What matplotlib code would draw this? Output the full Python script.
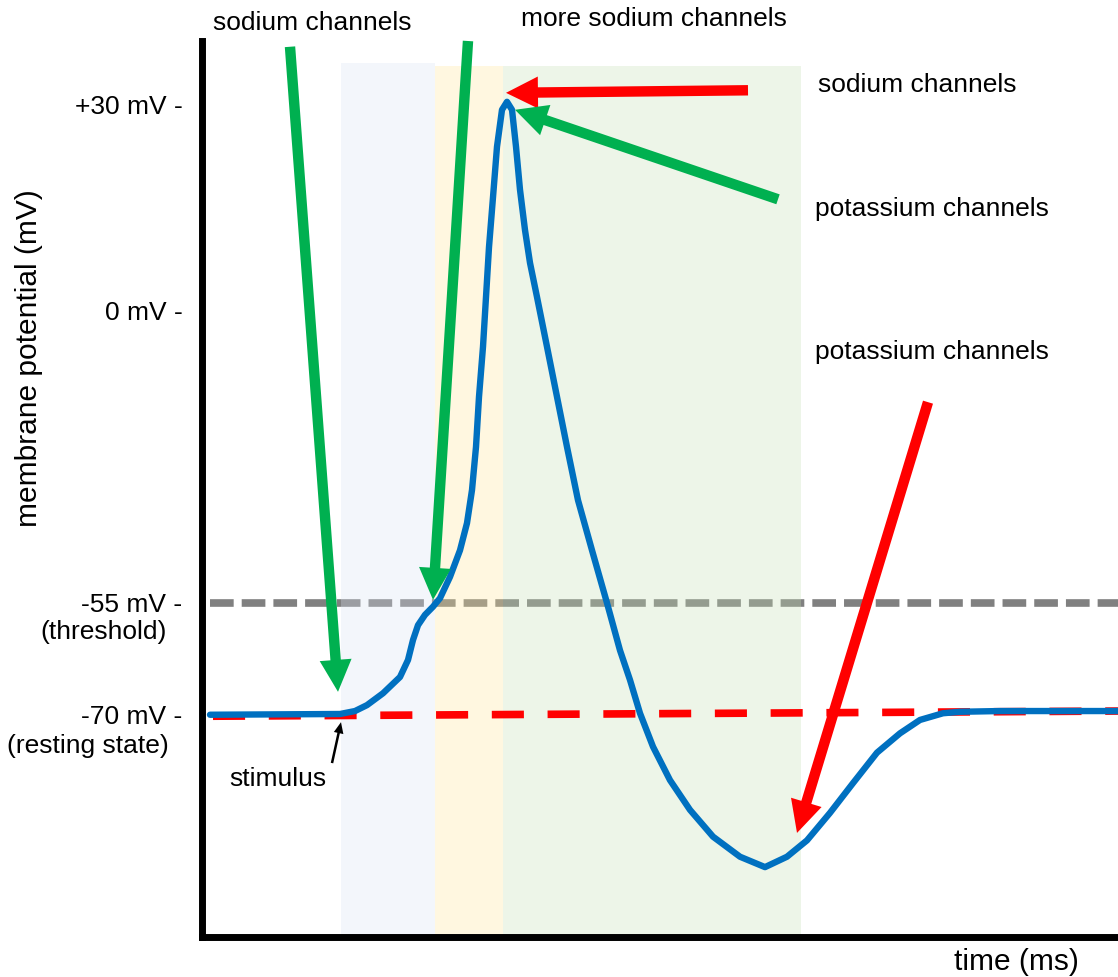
import numpy as np
import matplotlib.pyplot as plt
from matplotlib.patches import FancyArrowPatch

plt.rcParams['font.family'] = ['Liberation Sans', 'DejaVu Sans']

# -----------------------------
# Data (time in ms, potential in mV)
# -----------------------------
t_ms = [0.08, 1.38, 1.53, 1.65, 1.81, 1.98, 2.06, 2.11, 2.16, 2.23, 2.31, 2.38,
        2.48, 2.58, 2.65, 2.70, 2.74, 2.77, 2.81, 2.84, 2.87, 2.91, 2.95, 3.00,
        3.05, 3.10, 3.14, 3.18, 3.23, 3.28, 3.35, 3.45, 3.55, 3.65, 3.76, 3.90,
        4.05, 4.18, 4.28, 4.38, 4.51, 4.68, 4.88, 5.11, 5.38, 5.63, 5.85, 6.05,
        6.28, 6.51, 6.75, 6.98, 7.18, 7.41, 7.58, 7.98, 9.16]
v_mv = [-70.1, -70.0, -69.6, -68.8, -67.2, -65.0, -62.7, -60.0, -58.0, -56.6,
        -55.5, -54.1, -50.1, -45.1, -40.0, -33.8, -25.7, -16.3, -6.9, 1.9, 9.2,
        16.5, 23.9, 29.3, 30.5, 29.3, 23.9, 17.6, 11.7, 6.9, 1.9, -6.9, -16.3,
        -25.7, -35.7, -45.1, -55.0, -61.4, -65.4, -69.9, -74.4, -78.9, -82.9,
        -86.5, -89.2, -90.6, -89.2, -87.0, -83.3, -79.3, -75.2, -72.6, -70.8,
        -69.9, -69.7, -69.6, -69.6]

threshold_t = [0.08, 9.16]
threshold_v = [-55, -55]
resting_t = [0.11, 9.16]
resting_v = [-70.3, -69.6]

# phases: start, end, top (mV), colour
phase_start = [1.39, 2.33, 3.01]
phase_end = [2.33, 3.01, 5.99]
phase_top = [36.6, 36.1, 36.1]
phase_color = ['#DAE3F3', '#FFE699', '#C5E0B4']

tick_mv = [30, 0, -55, -70]
tick_labels = ['+30 mV -', '0 mV -', '-55 mV -', '-70 mV -']

# arrows: (tail t, tail mV) -> (tip t, tip mV)
arrow_tail = [(0.88, 39.1), (2.66, 40.0), (5.46, 32.3), (5.76, 16.2), (7.26, -17.3)]
arrow_tip = [(1.36, -67.0), (2.31, -54.4), (3.04, 31.9), (3.13, 29.3), (5.95, -86.0)]
arrow_color = ['#00B050', '#00B050', '#FF0000', '#00B050', '#FF0000']
stim_tail = (1.30, -76.6)
stim_tip = (1.39, -71.1)

# -----------------------------
# Schematic (non-linear) voltage axis
# -----------------------------
MV_ANCHOR = np.array([-120, -100, -70, -55, 0, 30, 40, 60])
POS_ANCHOR = 937 - np.array([1086, 937, 714, 603, 310, 105, 41, -87])


def forward(v):
    return np.interp(v, MV_ANCHOR, POS_ANCHOR)


def inverse(p):
    return np.interp(p, POS_ANCHOR, MV_ANCHOR)


W, H = 1118, 977
fig = plt.figure(figsize=(W / 100, H / 100), dpi=100)
ax = fig.add_axes([202 / W, 40 / H, (W - 202) / W, (937 - 41) / H])
ax.set_yscale('function', functions=(forward, inverse))
ax.set_xlim(0, (W - 202) / 100)
ax.set_ylim(-100, 40)

for side in ['top', 'right']:
    ax.spines[side].set_visible(False)
for side in ['left', 'bottom']:
    ax.spines[side].set_linewidth(5)
    ax.spines[side].set_capstyle('projecting')

ax.set_xticks([])
ax.set_yticks(tick_mv)
ax.set_yticklabels(tick_labels, fontsize=19)
ax.yaxis.set_minor_locator(plt.NullLocator())
ax.tick_params(axis='y', length=0, pad=14)

# threshold line below the phase bands
ax.plot(threshold_t, threshold_v, color='#808080', lw=5.5, dashes=(3.1, 1.05), zorder=1)

for x0, x1, top, c in zip(phase_start, phase_end, phase_top, phase_color):
    ax.bar(x0, top + 100, width=x1 - x0, bottom=-100, align='edge',
           color=c, alpha=0.3, lw=0, zorder=2)

ax.plot(resting_t, resting_v, color='#FF0000', lw=5.5, dashes=(4.2, 3.1), zorder=3)
ax.plot(t_ms, v_mv, color='#0070C0', lw=4.6, solid_joinstyle='round',
        solid_capstyle='round', zorder=4)

for tail, tip, c in zip(arrow_tail, arrow_tip, arrow_color):
    ax.add_patch(FancyArrowPatch(
        tail, tip, arrowstyle='simple,head_length=23,head_width=23,tail_width=7.5',
        color=c, lw=0, shrinkA=0, shrinkB=0, clip_on=False, zorder=5))
ax.add_patch(FancyArrowPatch(
    stim_tail, stim_tip, arrowstyle='simple,head_length=8,head_width=7,tail_width=1.8',
    color='black', lw=0, shrinkA=0, shrinkB=0, clip_on=False, zorder=5))

# -----------------------------
# Labels
# -----------------------------
def fx(x):
    return x / W


def fy(y):
    return 1 - y / H


fs = 19
fig.text(fx(29), fy(358), 'membrane potential (mV)', rotation=90, fontsize=21.5,
         ha='center', va='center')
fig.text(fx(1016), fy(962), 'time (ms)', fontsize=21.5, ha='center', va='center')
fig.text(fx(104), fy(632), '(threshold)', fontsize=fs, ha='center', va='center')
fig.text(fx(88), fy(746), '(resting state)', fontsize=fs, ha='center', va='center')
fig.text(fx(278), fy(779), 'stimulus', fontsize=fs, ha='center', va='center')
fig.text(fx(213), fy(30), 'sodium channels', fontsize=fs, ha='left', va='baseline')
fig.text(fx(521), fy(26), 'more sodium channels', fontsize=fs, ha='left', va='baseline')
fig.text(fx(818), fy(92), 'sodium channels', fontsize=fs, ha='left', va='baseline')
fig.text(fx(815), fy(216), 'potassium channels', fontsize=fs, ha='left', va='baseline')
fig.text(fx(815), fy(359), 'potassium channels', fontsize=fs, ha='left', va='baseline')

fig.savefig('out.png', dpi=100)
